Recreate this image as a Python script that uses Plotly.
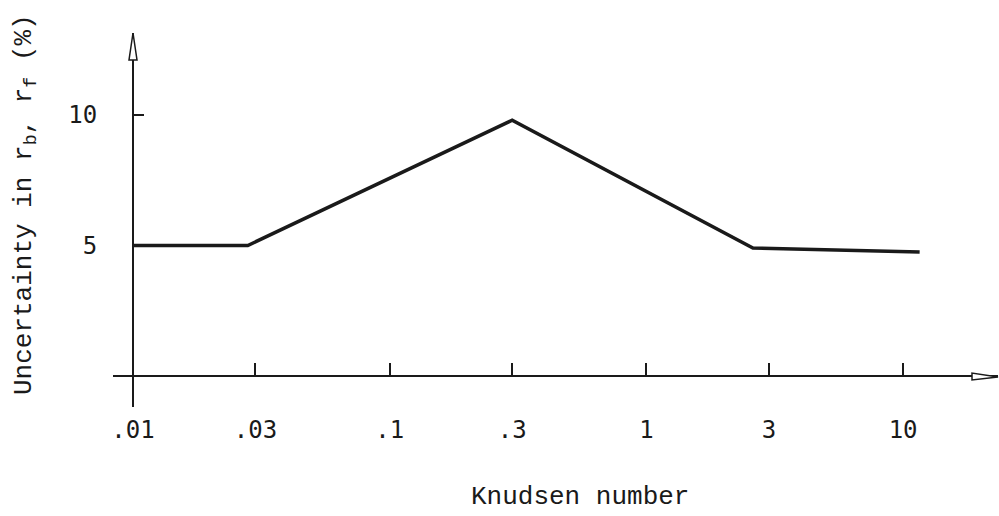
import plotly.graph_objects as go

# Data
knudsen = [0.01, 0.028, 0.30, 2.6, 11.6]
uncertainty = [5.0, 5.0, 9.8, 4.9, 4.75]

x_tickvals = [0.01, 0.03, 0.1, 0.3, 1, 3, 10]
x_ticktext = [".01", ".03", ".1", ".3", "1", "3", "10"]
y_tickvals = [5, 10]
y_ticktext = ["5", "10"]

x_title = "Knudsen number"
y_title = "Uncertainty in r<sub>b</sub>, r<sub>f</sub> (%)"

# Layout geometry (pixels)
W, H = 999, 516
L, R, T, B = 113, 1, 33, 109
pw = W - L - R
ph = H - T - B

INK = "#1a1a1a"
TICKFONT = dict(family="DejaVu Sans Mono", size=24, color=INK)
TITLEFONT = dict(family="Liberation Mono, Courier New, monospace", size=26, color=INK)

fig = go.Figure()
fig.add_trace(go.Scatter(
    x=knudsen, y=uncertainty, mode="lines",
    line=dict(color=INK, width=3.5),
    hoverinfo="skip", showlegend=False,
))

yaxis_px = 133  # where x=.01 sits
xaxis_px = 376  # where y=0 sits

fig.update_layout(
    width=W, height=H,
    margin=dict(l=L, r=R, t=T, b=B, pad=0),
    paper_bgcolor="white", plot_bgcolor="white",
    xaxis=dict(
        type="log", range=[-2.0779, 1.3697],
        tickvals=x_tickvals, ticktext=x_ticktext,
        ticks="inside", ticklen=12, tickwidth=1.5, tickcolor=INK,
        showline=True, linecolor=INK, linewidth=2,
        showgrid=False, zeroline=False,
        anchor="free", position=(T + ph - xaxis_px) / ph * 0 + (H - B - xaxis_px) / ph,
        tickfont=TICKFONT, ticklabelstandoff=32,
    ),
    yaxis=dict(
        range=[-(H - B - xaxis_px) / 26.1, (xaxis_px - T) / 26.1],
        tickvals=y_tickvals, ticktext=y_ticktext,
        ticks="inside", ticklen=10, tickwidth=1.5, tickcolor=INK,
        showline=True, linecolor=INK, linewidth=2,
        showgrid=False, zeroline=False,
        anchor="free", position=(yaxis_px - L) / pw,
        tickfont=TICKFONT, ticklabelstandoff=30,
    ),
)

# Arrowheads on the axes (paper coordinates)
def px2paper(xp, yp):
    return (xp - L) / pw, (H - B - yp) / ph

ax_, ay_ = px2paper(yaxis_px, T)
bx1, by1 = px2paper(yaxis_px - 4, T + 27)
bx2, by2 = px2paper(yaxis_px + 4, T + 27)
fig.add_shape(type="path", xref="paper", yref="paper",
              path=f"M {ax_} {ay_} L {bx1} {by1} L {bx2} {by2} Z",
              line=dict(color=INK, width=1.5), fillcolor="white")

cx, cy = px2paper(W - 1, xaxis_px + 1)
dx1, dy1 = px2paper(W - 27, xaxis_px - 3)
dx2, dy2 = px2paper(W - 27, xaxis_px + 4)
fig.add_shape(type="path", xref="paper", yref="paper",
              path=f"M {cx} {cy} L {dx1} {dy1} L {dx2} {dy2} Z",
              line=dict(color=INK, width=1.5), fillcolor="white")

# Axis titles
tx, ty = px2paper(580, 497)
fig.add_annotation(text=x_title, xref="paper", yref="paper", x=tx, y=ty,
                   xanchor="center", yanchor="middle", showarrow=False,
                   font=TITLEFONT)
ux, uy = px2paper(25, 205)
fig.add_annotation(text=y_title, xref="paper", yref="paper", x=ux, y=uy,
                   xanchor="center", yanchor="middle", showarrow=False,
                   textangle=-90, font=TITLEFONT)

fig.write_html("out.html")
